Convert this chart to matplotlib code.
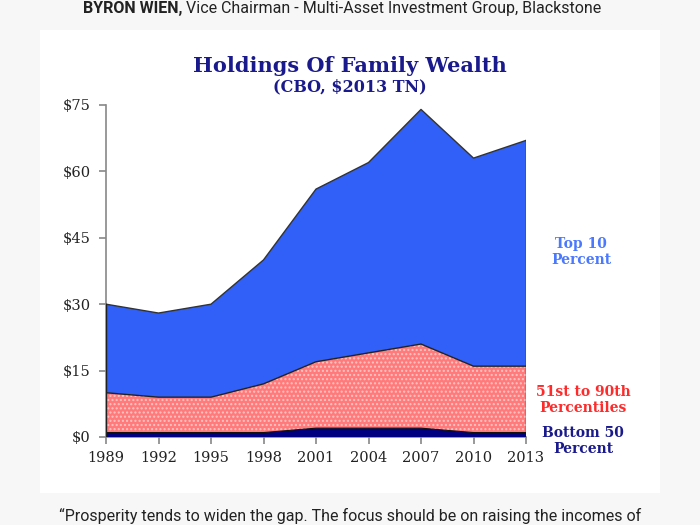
import matplotlib.pyplot as plt
import matplotlib.patches as mpatches
import numpy as np

# data ($2013 trillions)
years = [1989, 1992, 1995, 1998, 2001, 2004, 2007, 2010, 2013]
bottom50 = [1, 1, 1, 1, 2, 2, 2, 1, 1]
mid51_90 = [9, 8, 8, 11, 15, 17, 19, 15, 15]
top10 = [20, 19, 21, 28, 39, 43, 53, 47, 51]
ytick_vals = [0, 15, 30, 45, 60, 75]
ytick_labels = ["$0", "$15", "$30", "$45", "$60", "$75"]

serif = "DejaVu Serif"
plt.rcParams['hatch.linewidth'] = 1.0

fig = plt.figure(figsize=(7, 5.25), dpi=100)
fig.patch.set_facecolor("#f7f7f7")

# white card behind the chart
card = mpatches.Rectangle((40 / 700, 1 - 493 / 525), 620 / 700, 463 / 525,
                          transform=fig.transFigure, facecolor="white",
                          edgecolor="none", zorder=-10)
fig.patches.append(card)

ax = fig.add_axes([106 / 700, 1 - 437 / 525, 420 / 700, 332 / 525])
ax.set_facecolor("none")
ax.set_zorder(2)

b = np.array(bottom50)
m = b + np.array(mid51_90)
t = m + np.array(top10)

ax.fill_between(years, m, t, facecolor="#3060f8", edgecolor="none", zorder=1)
ax.fill_between(years, b, m, facecolor="#ff7b7b", edgecolor="#ffc4c4",
                hatch="....", linewidth=0, zorder=2)
ax.fill_between(years, 0, b, facecolor="#000080", edgecolor="none", zorder=3)
ax.plot(years, t, color="#333333", lw=1.0, zorder=4)
ax.plot(years, m, color="#222222", lw=1.0, zorder=4)
ax.plot(years, b, color="#111111", lw=0.8, zorder=4)
ax.plot([years[-1], years[-1]], [0, t[-1]], color="#222222", lw=1.0, zorder=4)
ax.plot([years[0], years[0]], [0, t[0]], color="#222222", lw=1.0, zorder=4)

ax.set_xlim(years[0], years[-1])
ax.set_ylim(0, 75)
ax.set_xticks(years)
ax.set_xticklabels([str(y) for y in years], fontfamily=serif, fontsize=10.5)
ax.set_yticks(ytick_vals)
ax.set_yticklabels(ytick_labels, fontfamily=serif, fontsize=10.5)
for s in ["top", "right"]:
    ax.spines[s].set_visible(False)
for s in ["left", "bottom"]:
    ax.spines[s].set_color("#888888")
    ax.spines[s].set_linewidth(1.2)
ax.tick_params(axis="both", colors="#888888", labelcolor="#222222",
               length=5, width=1.2, direction="out")
ax.tick_params(axis="y", pad=6)
ax.tick_params(axis="x", pad=5)

# titles
fig.text(350 / 700, 1 - 66 / 525, "Holdings Of Family Wealth", ha="center",
         va="center", fontfamily=serif, fontweight="bold", fontsize=15,
         color="#1a1a8c")
fig.text(350 / 700, 1 - 87 / 525, "(CBO, $2013 TN)", ha="center",
         va="center", fontfamily=serif, fontweight="bold", fontsize=11.5,
         color="#1a1a8c")

# series labels
fig.text(581 / 700, 1 - 252 / 525, "Top 10\nPercent", ha="center",
         va="center", fontfamily=serif, fontweight="bold", fontsize=10,
         color="#4a78ff", linespacing=1.1)
fig.text(583 / 700, 1 - 400 / 525, "51st to 90th\nPercentiles", ha="center",
         va="center", fontfamily=serif, fontweight="bold", fontsize=10,
         color="#ff2a2a", linespacing=1.1)
fig.text(583 / 700, 1 - 441 / 525, "Bottom 50\nPercent", ha="center",
         va="center", fontfamily=serif, fontweight="bold", fontsize=10,
         color="#1a1a8c", linespacing=1.1)

# surrounding article text
fig.text(83 / 700, 1 - 9 / 525, "BYRON WIEN,", ha="left", va="center",
         fontfamily="Roboto", fontweight="bold", fontsize=11.5, color="#222222")
fig.text(186 / 700, 1 - 9 / 525,
         "Vice Chairman - Multi-Asset Investment Group, Blackstone",
         ha="left", va="center", fontfamily="Roboto", fontsize=11.5,
         color="#222222")
fig.text(350 / 700, 1 - 516 / 525,
         "\u201cProsperity tends to widen the gap. The focus should be on raising the incomes of",
         ha="center", va="center", fontfamily="Roboto", fontsize=11.5,
         color="#222222")

fig.savefig("out.png", dpi=100, facecolor=fig.get_facecolor())
